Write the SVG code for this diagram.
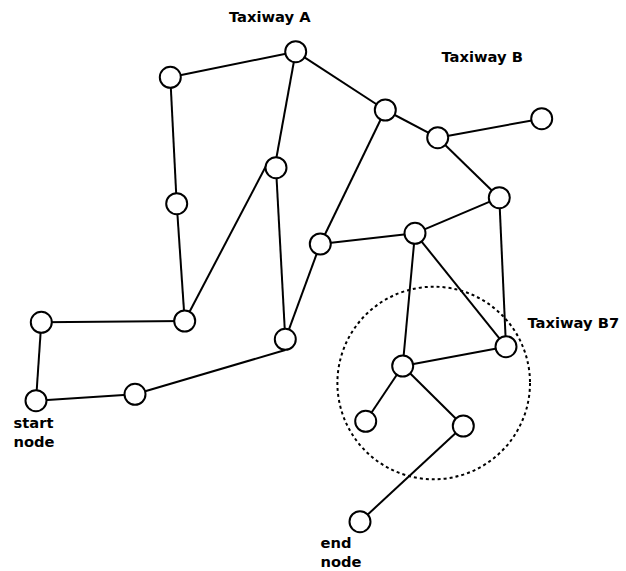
<svg xmlns="http://www.w3.org/2000/svg" width="626" height="571" viewBox="0 0 626 571">
<style>
.n{fill:#fff;stroke:#000;stroke-width:2}
.e{stroke:#000;stroke-width:2;fill:none}
.t{font-family:"DejaVu Sans",sans-serif;font-weight:bold;font-size:14.7px;fill:#000}
</style>
<rect width="626" height="571" fill="#fff"/>
<g id="region">
<circle cx="433.7" cy="383" r="96.3" fill="none" stroke="#000" stroke-width="2" stroke-dasharray="3,3"/>
</g>
<g id="connectors" class="e">
<line x1="170.3" y1="77.3" x2="295.7" y2="51.7"/>
<line x1="295.7" y1="51.7" x2="385.3" y2="110"/>
<line x1="385.3" y1="110" x2="437.7" y2="137.7"/>
<line x1="437.7" y1="137.7" x2="541.7" y2="118.7"/>
<line x1="437.7" y1="137.7" x2="499.3" y2="197.7"/>
<line x1="295.7" y1="51.7" x2="276" y2="160"/>
<line x1="170.3" y1="77.3" x2="176.7" y2="203.7"/>
<line x1="176.7" y1="203.7" x2="184.7" y2="321"/>
<line x1="184.7" y1="321" x2="266" y2="166"/>
<line x1="276" y1="167.7" x2="285.3" y2="339.3"/>
<line x1="385.3" y1="110" x2="320.3" y2="244"/>
<line x1="320.3" y1="244" x2="415" y2="233.3"/>
<line x1="415" y1="233.3" x2="499.3" y2="197.7"/>
<line x1="499.3" y1="197.7" x2="506" y2="346.7"/>
<line x1="415" y1="233.3" x2="506" y2="346.7"/>
<line x1="415" y1="233.3" x2="402.7" y2="366"/>
<line x1="402.7" y1="366" x2="506" y2="346.7"/>
<line x1="402.7" y1="366" x2="365.7" y2="421.3"/>
<line x1="402.7" y1="366" x2="463.3" y2="426"/>
<line x1="463.3" y1="426" x2="360" y2="521.7"/>
<line x1="320.3" y1="244" x2="285.3" y2="339.3"/>
<line x1="285.3" y1="350" x2="135" y2="394.3"/>
<line x1="135" y1="394.3" x2="36" y2="400.7"/>
<line x1="36" y1="400.7" x2="41.3" y2="322.3"/>
<line x1="41.3" y1="322.3" x2="184.7" y2="321"/>
</g>
<g id="n1"><circle class="n" cx="295.7" cy="51.7" r="10.5"/></g>
<g id="n2"><circle class="n" cx="170.3" cy="77.3" r="10.5"/></g>
<g id="n3"><circle class="n" cx="385.3" cy="110" r="10.5"/></g>
<g id="n4"><circle class="n" cx="437.7" cy="137.7" r="10.5"/></g>
<g id="n5"><circle class="n" cx="541.7" cy="118.7" r="10.5"/></g>
<g id="n6"><circle class="n" cx="276" cy="167.7" r="10.5"/></g>
<g id="n7"><circle class="n" cx="176.7" cy="203.7" r="10.5"/></g>
<g id="n8"><circle class="n" cx="499.3" cy="197.7" r="10.5"/></g>
<g id="n9"><circle class="n" cx="415" cy="233.3" r="10.5"/></g>
<g id="n10"><circle class="n" cx="320.3" cy="244" r="10.5"/></g>
<g id="n11"><circle class="n" cx="41.3" cy="322.3" r="10.5"/></g>
<g id="n12"><circle class="n" cx="184.7" cy="321" r="10.5"/></g>
<g id="n13"><circle class="n" cx="285.3" cy="339.3" r="10.5"/></g>
<g id="n14"><circle class="n" cx="506" cy="346.7" r="10.5"/></g>
<g id="n15"><circle class="n" cx="402.7" cy="366" r="10.5"/></g>
<g id="n16"><circle class="n" cx="135" cy="394.3" r="10.5"/></g>
<g id="n17"><circle class="n" cx="36" cy="400.7" r="10.5"/></g>
<g id="n18"><circle class="n" cx="365.7" cy="421.3" r="10.5"/></g>
<g id="n19"><circle class="n" cx="463.3" cy="426" r="10.5"/></g>
<g id="n20"><circle class="n" cx="360" cy="521.7" r="10.5"/></g>
<g id="labels">
<text class="t" x="229" y="22">Taxiway A</text>
<text class="t" x="441.5" y="61.5">Taxiway B</text>
<text class="t" x="527.5" y="328">Taxiway B7</text>
<text class="t" x="13.5" y="428">start</text>
<text class="t" x="13.5" y="447">node</text>
<text class="t" x="320.5" y="548">end</text>
<text class="t" x="320.5" y="567">node</text>
</g>
</svg>
